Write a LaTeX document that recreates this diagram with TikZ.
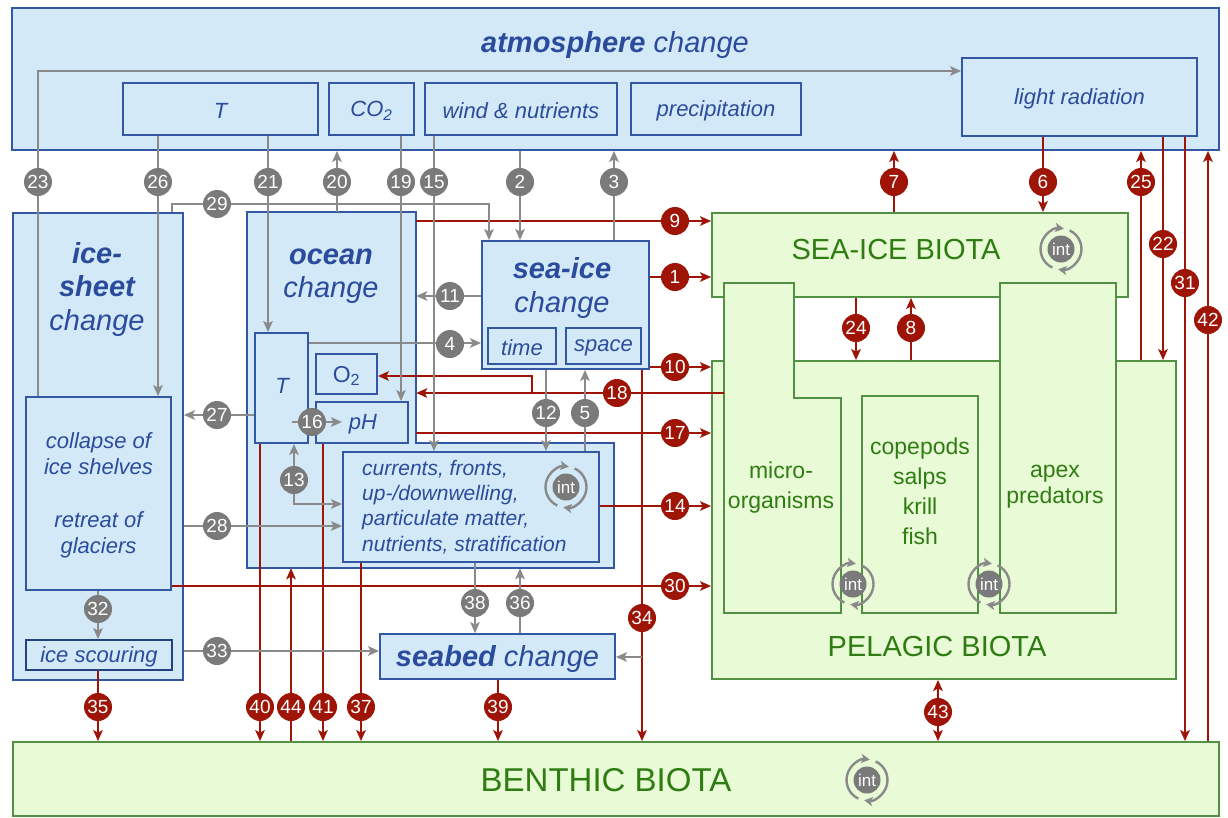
\documentclass[tikz,border=0pt]{standalone}
\usepackage{fontspec}
\setmainfont{Liberation Sans}
\usetikzlibrary{arrows.meta,fit}
\definecolor{bfill}{HTML}{D3E9F8}
\definecolor{bdraw}{HTML}{3457A3}
\definecolor{bdark}{HTML}{24427F}
\definecolor{btext}{HTML}{2B4C9C}
\definecolor{gfill}{HTML}{E8FAD6}
\definecolor{gdraw}{HTML}{529044}
\definecolor{gtext}{HTML}{2F7D12}
\definecolor{rline}{HTML}{9E1406}
\definecolor{gline}{HTML}{8A8A8A}
\definecolor{glabel}{HTML}{7A7A7A}
\newcommand\myfs[2]{\fontsize{#1}{#2}\selectfont}
\tikzset{
  >={Stealth[length=11pt,width=9.5pt,inset=2.5pt]},
  bbox/.style={draw=bdraw, fill=bfill, line width=1.8pt, inner sep=0pt},
  gbox/.style={draw=gdraw, fill=gfill, line width=1.8pt, inner sep=0pt},
  btxt/.style={text=btext, font=\myfs{22}{26.3}\itshape, align=center, inner sep=0pt, yshift=-2pt},
  btitle/.style={text=btext, font=\myfs{29}{33.5}\itshape, align=center, inner sep=0pt},
  gtitle/.style={text=gtext, font=\myfs{29}{34}, align=center, inner sep=0pt},
  gtxt/.style={text=gtext, font=\myfs{23}{30}, align=center, inner sep=0pt},
  gar/.style={draw=gline, line width=2pt, ->},
  rar/.style={draw=rline, line width=2pt, ->},
  glab/.style={circle, fill=glabel, text=white, inner sep=0pt, minimum size=28pt, font=\myfs{19}{19}},
  rlab/.style={glab, fill=rline},
  inticon/.pic={
    \fill[glabel] (0,0) circle[radius=13.5];
    \node[text=white, font=\myfs{17}{17}, inner sep=0pt] (-int) at (0,0) {int};
    \draw[gline, line width=2.4pt, -{Stealth[length=8.5pt,width=9pt,inset=2pt]}] (-245:20.5) arc[start angle=-245, end angle=-82, radius=20.5];
    \draw[gline, line width=2.4pt, -{Stealth[length=8.5pt,width=9pt,inset=2pt]}] (-65:20.5) arc[start angle=-65, end angle=98, radius=20.5];
  }
}
\begin{document}
\begin{tikzpicture}[x=1pt,y=-1pt]
\useasboundingbox (0,0) rectangle (1228,817);
% ---------- atmosphere ----------
\node[bbox, fit={(12,8)(1219,150)}] (atm) {};
\node[btitle] (atmtitle) at (615,45) {{\bfseries atmosphere} change};
\node[bbox, fit={(123,83)(318,135)}] (aT) {};
\node[btxt] (aTt) at (aT.center) {T};
\node[bbox, fit={(329,83)(414,135)}] (aCO) {};
\node[btxt] (aCOt) at (aCO.center) {CO\textsubscript{2}};
\node[bbox, fit={(425,83)(617,135)}] (aW) {};
\node[btxt] (aWt) at (aW.center) {wind \& nutrients};
\node[bbox, fit={(631,83)(801,135)}] (aP) {};
\node[btxt] (aPt) at (aP.center) {precipitation};
\node[bbox, fit={(962,58)(1197,136)}] (aL) {};
\node[btxt] (aLt) at (aL.center) {light radiation};
% ---------- ice sheet ----------
\node[bbox, fit={(13,213)(183,680)}] (ice) {};
\node[btitle] (icetitle) at (97,289) {{\bfseries ice-}\\{\bfseries sheet}\\change};
\node[bbox, fit={(26,397)(171,590)}] (coll) {};
\node[btxt] (collt) at (coll.center) {collapse of\\ice shelves\\[26.3pt]retreat of\\glaciers};
\node[bbox, fit={(26,640)(172,670)}, draw=bdark] (scour) {};
\node[btxt] (scourt) at (scour.center) {ice scouring};
% ---------- ocean ----------
\draw[draw=bdraw, fill=bfill, line width=1.8pt] (247,212) -- (416,212) -- (416,443) -- (614,443) -- (614,568) -- (247,568) -- cycle;
\node[fit={(247,212)(416,568)}, inner sep=0pt] (ocean) {};
\node[fit={(416,443)(614,568)}, inner sep=0pt] (oceanx) {};
\node[btitle] (oceantitle) at (331,276) {{\bfseries ocean}\\change};
\node[bbox, fit={(255,333)(308,443)}] (oT) {};
\node[btxt] (oTt) at (282,384) {T};
\node[bbox, fit={(316,354)(377,394)}] (oO) {};
\node[btxt, font=\myfs{23}{26}] (oOt) at (oO.center) {O\textsubscript{2}};
\node[bbox, fit={(316,402)(408,443)}] (opH) {};
\node[btxt] (opHt) at ([xshift=1pt]opH.center) {pH};
\node[bbox, fit={(343,452)(599,562)}] (cur) {};
\node[anchor=west, align=left, text=btext, font=\myfs{21}{25.4}\itshape, inner sep=0pt] (curtext) at (362,507) {currents, fronts,\\up-/downwelling,\\particulate matter,\\nutrients, stratification};
% ---------- sea ice ----------
\node[bbox, fit={(482,241)(649,369)}] (si) {};
\node[btitle] (sititle) at (562,288) {{\bfseries sea-ice}\\change};
\node[bbox, fit={(488,328)(556,364)}] (sitime) {};
\node[btxt] (sitimet) at (sitime.center) {time};
\node[bbox, fit={(566,328)(641,364)}] (sispace) {};
\node[btxt] (sispacet) at (sispace.center) {space};
% ---------- seabed ----------
\node[bbox, fit={(380,634)(615,679)}] (sb) {};
\node[btitle, yshift=-2pt] (sbt) at (sb.center) {{\bfseries seabed} change};
% ---------- biota ----------
\node[gbox, fit={(712,213)(1128,297)}] (sib) {};
\node[gtitle] (sibtext) at (896,250) {SEA-ICE BIOTA};
\node[gbox, fit={(712,361)(1176,679)}] (pel) {};
\node[gtitle] (peltext) at (937,647) {PELAGIC BIOTA};
\draw[draw=gdraw, fill=gfill, line width=1.8pt] (724,283) -- (794,283) -- (794,398) -- (841,398) -- (841,613) -- (724,613) -- cycle;
\node[fit={(724,283)(841,613)}, inner sep=0pt] (micro) {};
\node[gtxt] (microtext) at (781,488) {micro-\\organisms};
\node[gbox, fit={(862,396)(978,613)}] (cop) {};
\node[gtxt] (coptext) at (920,491) {copepods\\salps\\krill\\fish};
\node[gbox, fit={(1000,283)(1116,613)}] (apex) {};
\node[gtxt, font=\myfs{23}{26}] (apextext) at (1055,487) {apex\\predators};
\node[gbox, fit={(13,742)(1219,816)}] (ben) {};
\node[gtitle, font=\myfs{33}{38}] (bentext) at (606,780) {BENTHIC BIOTA};
% ---------- int icons ----------
\pic (int1) at (566,487) {inticon};
\pic (int2) at (1061,249) {inticon};
\pic (int3) at (853,584) {inticon};
\pic (int4) at (989,584) {inticon};
\pic (int5) at (867,780) {inticon};
% ---------- helper coordinates ----------
\coordinate (p16a) at (292,422);
\coordinate (p16b) at (342,422);
\coordinate (j34) at (642,657);
\coordinate (j18) at (532,393);
% ---------- red connectors ----------
\draw[rar] (ocean.east |- 0,221) -- (sib.west |- 0,221);
\draw[rar] (si.east |- 0,277) -- (sib.west |- 0,277);
\draw[rar] (si.east |- 0,367) -- (pel.west |- 0,367);
\draw[rar] (micro.west |- 0,393) -- (ocean.east |- 0,393);
\draw[rar] (j18) -- (532,376) -- (oO.east |- 0,376);
\draw[rar] (ocean.east |- 0,433) -- (pel.west |- 0,433);
\draw[rar] (cur.east |- 0,506) -- (pel.west |- 0,506);
\draw[rar] (coll.east |- 0,586) -- (pel.west |- 0,586);
\draw[rar] (si.south -| 642,0) -- (ben.north -| 642,0);
\draw[rar] (scour.south -| 98,0) -- (ben.north -| 98,0);
\draw[rar] (oT.south -| 260,0) -- (ben.north -| 260,0);
\draw[rar] (ben.north -| 291,0) -- (ocean.south -| 291,0);
\draw[rar] (opH.south -| 323,0) -- (ben.north -| 323,0);
\draw[rar] (cur.south -| 361,0) -- (ben.north -| 361,0);
\draw[rar] (sb.south -| 498,0) -- (ben.north -| 498,0);
\draw[rar] (sib.north -| 894,0) -- (atm.south -| 894,0);
\draw[rar] (aL.south -| 1043,0) -- (sib.north -| 1043,0);
\draw[rar] (pel.north -| 1141,0) -- (atm.south -| 1141,0);
\draw[rar] (aL.south -| 1163,0) -- (pel.north -| 1163,0);
\draw[rar] (aL.south -| 1185,0) -- (ben.north -| 1185,0);
\draw[rar] (ben.north -| 1208,0) -- (atm.south -| 1208,0);
\draw[rar] (sib.south -| 856,0) -- (pel.north -| 856,0);
\draw[rar] (pel.north -| 911,0) -- (sib.south -| 911,0);
\draw[rar, <->] (pel.south -| 938,0) -- (ben.north -| 938,0);
% ---------- grey connectors ----------
\draw[gar] (coll.north -| 38,0) -- (38,71) -- (aL.west |- 0,71);
\draw[gar] (aT.south -| 158,0) -- (coll.north -| 158,0);
\draw[gar] (aT.south -| 268,0) -- (oT.north -| 268,0);
\draw[gar] (ocean.north -| 337,0) -- (atm.south -| 337,0);
\draw[gar] (aCO.south -| 401,0) -- (opH.north -| 401,0);
\draw[gar] (aW.south -| 434,0) -- (cur.north -| 434,0);
\draw[gar] (atm.south -| 520,0) -- (si.north -| 520,0);
\draw[gar] (si.north -| 614,0) -- (atm.south -| 614,0);
\draw[gar] (ice.north -| 172,0) -- (172,204) -- (489,204) -- (si.north -| 489,0);
\draw[gar] (oT.east |- 0,343) -- (si.west |- 0,343);
\draw[gar] (si.west |- 0,296) -- (ocean.east |- 0,296);
\draw[gar] (si.south -| 546,0) -- (cur.north -| 546,0);
\draw[gar] (cur.north -| 585,0) -- (si.south -| 585,0);
\draw[gar] (oT.west |- 0,415) -- (ice.east |- 0,415);
\draw[gar] (p16a) -- (p16b);
\draw[gar, <->] (oT.south -| 294,0) -- (294,504) -- (cur.west |- 0,504);
\draw[gar] (ice.east |- 0,526) -- (cur.west |- 0,526);
\draw[gar] (coll.south -| 98,0) -- (scour.north -| 98,0);
\draw[gar] (ice.east |- 0,651) -- (sb.west |- 0,651);
\draw[gar] (cur.south -| 475,0) -- (sb.north -| 475,0);
\draw[gar] (sb.north -| 520,0) -- (oceanx.south -| 520,0);
\draw[gar] (j34) -- (sb.east |- 0,657);
% ---------- labels ----------
\node[glab] (l23) at (38,182) {23};
\node[glab] (l26) at (158,182) {26};
\node[glab] (l21) at (268,182) {21};
\node[glab] (l20) at (337,182) {20};
\node[glab] (l19) at (401,182) {19};
\node[glab] (l15) at (434,182) {15};
\node[glab] (l2) at (520,182) {2};
\node[glab] (l3) at (614,182) {3};
\node[glab] (l29) at (217,204) {29};
\node[glab] (l11) at (450,296) {11};
\node[glab] (l4) at (450,344) {4};
\node[glab] (l12) at (546,413) {12};
\node[glab] (l5) at (585,413) {5};
\node[glab] (l27) at (217,415) {27};
\node[glab] (l16) at (312,422) {16};
\node[glab] (l13) at (294,480) {13};
\node[glab] (l28) at (217,526) {28};
\node[glab] (l32) at (98,609) {32};
\node[glab] (l38) at (475,603) {38};
\node[glab] (l36) at (520,603) {36};
\node[glab] (l33) at (217,651) {33};
\node[rlab] (l7) at (894,182) {7};
\node[rlab] (l6) at (1043,182) {6};
\node[rlab] (l25) at (1141,182) {25};
\node[rlab] (l22) at (1163,244) {22};
\node[rlab] (l31) at (1185,283) {31};
\node[rlab] (l42) at (1208,320) {42};
\node[rlab] (l9) at (675,221) {9};
\node[rlab] (l1) at (675,277) {1};
\node[rlab] (l10) at (675,367) {10};
\node[rlab] (l18) at (617,393) {18};
\node[rlab] (l17) at (675,433) {17};
\node[rlab] (l14) at (675,506) {14};
\node[rlab] (l30) at (675,586) {30};
\node[rlab] (l34) at (642,618) {34};
\node[rlab] (l24) at (856,328) {24};
\node[rlab] (l8) at (911,328) {8};
\node[rlab] (l35) at (98,707) {35};
\node[rlab] (l40) at (260,707) {40};
\node[rlab] (l44) at (291,707) {44};
\node[rlab] (l41) at (323,707) {41};
\node[rlab] (l37) at (361,707) {37};
\node[rlab] (l39) at (498,707) {39};
\node[rlab] (l43) at (938,712) {43};
\end{tikzpicture}
\end{document}
